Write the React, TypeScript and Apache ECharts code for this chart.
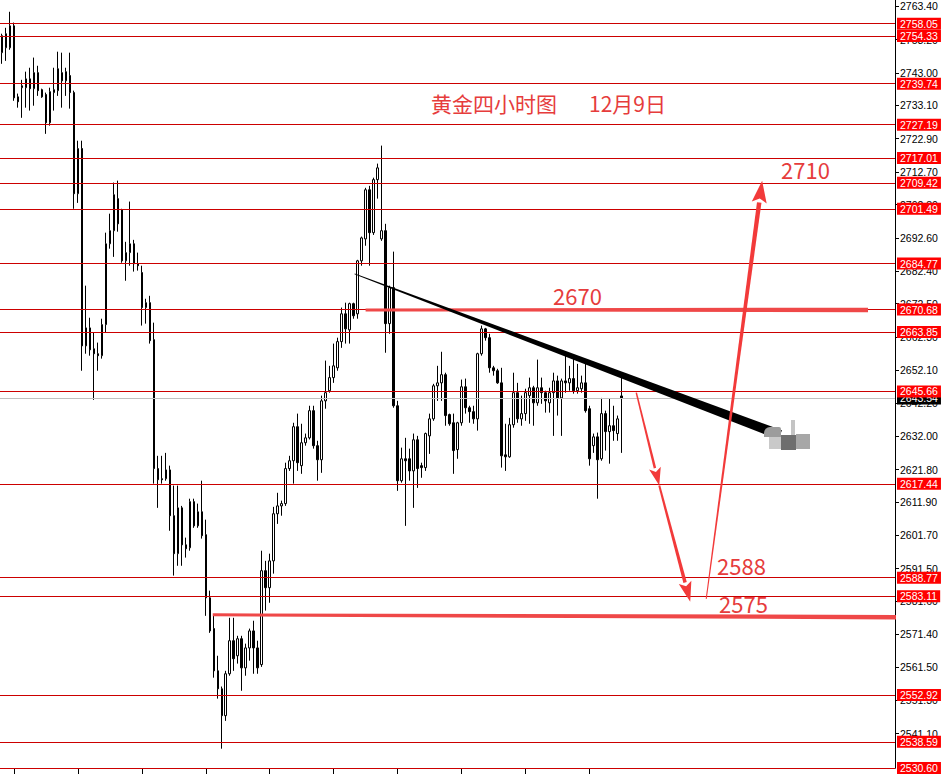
import React, { useEffect, useRef } from "react";
import * as echarts from "echarts";

// ---------- data ----------
const SLOT_COUNT = 224; // candle slots on the time axis (right part is chart shift)
const categories = Array.from({ length: SLOT_COUNT }, (_, i) => String(i));

const opens = [
  2749.2, 2750.7, 2750.7, 2757.4, 2735.7, 2738.5, 2738.5, 2741.2, 2738.2, 2743.1,
  2737.9, 2736.4, 2727.8, 2737.0, 2737.6, 2743.1, 2740.6, 2742.2, 2737.0, 2706.1,
  2719.9, 2659.6, 2665.1, 2658.7, 2657.2, 2656.6, 2666.1, 2690.8, 2694.8, 2704.6,
  2701.2, 2685.6, 2688.1, 2690.8, 2684.7, 2682.0, 2671.3, 2672.8, 2661.5, 2622.1,
  2619.0, 2619.0, 2621.7, 2607.7, 2596.1, 2610.1, 2598.8, 2597.9, 2612.0, 2604.6,
  2608.9, 2601.9, 2582.6, 2573.2, 2560.3, 2554.8, 2546.6, 2559.4, 2569.5, 2564.9,
  2570.1, 2561.2, 2567.3, 2572.5, 2567.3, 2562.2, 2590.9, 2585.7, 2593.9, 2608.3,
  2610.7, 2611.4, 2622.1, 2624.5, 2634.9, 2623.0, 2630.0, 2631.5, 2639.8, 2629.1,
  2624.8, 2642.8, 2645.9, 2649.9, 2652.9, 2660.9, 2669.4, 2664.5, 2672.5, 2669.4,
  2685.6, 2692.3, 2707.3, 2694.2, 2710.4, 2692.3, 2694.8, 2666.4, 2677.4, 2641.3,
  2618.4, 2625.1, 2625.1, 2621.4, 2630.9, 2623.0, 2622.4, 2632.1, 2637.3, 2647.4,
  2648.3, 2650.8, 2638.6, 2636.1, 2627.9, 2636.1, 2647.1, 2640.7, 2639.5, 2637.3,
  2657.2, 2664.8, 2662.1, 2652.9, 2652.0, 2648.3, 2626.3, 2625.7, 2635.5, 2645.3,
  2637.3, 2638.9, 2644.4, 2646.8, 2642.2, 2646.8, 2645.3, 2642.2, 2645.3, 2648.9,
  2643.7, 2648.9, 2648.3, 2649.6, 2645.9, 2646.5, 2648.3, 2640.4, 2629.1, 2631.8,
  2625.1, 2638.9, 2633.4, 2635.2, 2632.8, 2644.3,
];
const closes = [
  2754.4, 2755.0, 2757.4, 2735.4, 2734.2, 2739.1, 2741.2, 2738.2, 2743.1, 2737.6,
  2735.7, 2727.8, 2737.3, 2737.9, 2744.3, 2740.6, 2743.4, 2737.0, 2706.1, 2719.9,
  2659.6, 2665.1, 2658.4, 2657.2, 2656.6, 2666.1, 2690.8, 2694.8, 2705.8, 2696.9,
  2685.6, 2688.1, 2690.8, 2684.7, 2684.1, 2671.3, 2672.8, 2661.2, 2622.1, 2618.7,
  2618.7, 2621.7, 2607.7, 2596.1, 2610.1, 2598.8, 2597.6, 2612.0, 2604.6, 2608.9,
  2601.6, 2582.6, 2572.5, 2560.3, 2554.8, 2546.6, 2559.4, 2569.5, 2564.0, 2570.1,
  2561.2, 2567.3, 2572.5, 2567.3, 2561.2, 2590.9, 2585.7, 2593.9, 2608.3, 2610.7,
  2611.4, 2622.1, 2624.5, 2634.9, 2623.9, 2630.0, 2631.5, 2639.8, 2629.1, 2624.8,
  2642.8, 2645.3, 2649.9, 2653.5, 2660.9, 2669.4, 2664.8, 2672.5, 2668.8, 2685.6,
  2692.6, 2707.3, 2694.2, 2710.4, 2714.0, 2694.8, 2666.4, 2677.4, 2641.3, 2618.4,
  2625.1, 2624.5, 2621.4, 2630.9, 2622.1, 2622.4, 2632.8, 2637.3, 2647.4, 2648.3,
  2650.8, 2638.3, 2635.8, 2627.6, 2636.1, 2647.1, 2640.7, 2639.5, 2637.3, 2657.2,
  2664.8, 2662.1, 2652.9, 2652.0, 2648.3, 2626.0, 2625.7, 2635.5, 2645.3, 2637.3,
  2638.9, 2645.3, 2646.8, 2642.2, 2646.8, 2645.3, 2642.8, 2645.3, 2648.9, 2643.7,
  2648.9, 2648.3, 2649.6, 2645.9, 2646.8, 2648.3, 2639.8, 2625.1, 2631.8, 2624.8,
  2638.9, 2633.4, 2635.2, 2633.7, 2637.3, 2643.5,
];
const lows = [
  2745.8, 2746.7, 2750.1, 2734.5, 2732.4, 2729.3, 2732.4, 2731.5, 2733.0, 2736.0,
  2735.4, 2724.4, 2726.9, 2731.5, 2736.0, 2732.4, 2736.0, 2732.1, 2701.5, 2703.3,
  2652.0, 2657.2, 2656.6, 2643.1, 2652.0, 2655.7, 2663.6, 2689.3, 2686.8, 2694.5,
  2685.0, 2679.5, 2684.1, 2682.3, 2682.6, 2665.8, 2666.4, 2660.3, 2617.5, 2610.1,
  2617.5, 2618.4, 2603.1, 2589.4, 2592.4, 2592.4, 2594.9, 2597.0, 2604.0, 2604.0,
  2600.7, 2577.1, 2571.9, 2558.2, 2551.8, 2536.5, 2545.0, 2558.8, 2560.3, 2562.5,
  2554.2, 2558.8, 2563.4, 2559.4, 2559.4, 2561.5, 2578.7, 2581.1, 2590.0, 2605.2,
  2607.7, 2610.7, 2621.4, 2617.5, 2621.4, 2620.5, 2629.1, 2631.0, 2628.2, 2618.4,
  2620.8, 2640.4, 2645.3, 2648.3, 2652.0, 2659.0, 2660.3, 2660.3, 2667.9, 2667.9,
  2684.1, 2690.2, 2684.1, 2693.5, 2704.6, 2691.7, 2657.5, 2663.3, 2640.7, 2615.3,
  2617.8, 2604.6, 2618.4, 2610.1, 2616.2, 2619.3, 2621.4, 2626.6, 2636.7, 2642.8,
  2642.8, 2635.2, 2635.2, 2620.5, 2625.1, 2635.2, 2638.9, 2636.1, 2635.8, 2633.7,
  2656.6, 2661.2, 2651.4, 2650.5, 2648.0, 2622.4, 2621.4, 2625.4, 2634.6, 2636.1,
  2635.2, 2636.7, 2635.8, 2635.2, 2641.3, 2641.9, 2639.2, 2639.2, 2632.1, 2638.3,
  2632.1, 2645.3, 2645.9, 2645.0, 2645.0, 2645.3, 2639.2, 2623.0, 2626.9, 2612.9,
  2624.5, 2627.6, 2623.6, 2630.6, 2630.6, 2626.9,
];
const highs = [
  2755.0, 2756.8, 2761.7, 2758.4, 2736.7, 2740.9, 2743.4, 2744.6, 2747.7, 2745.2,
  2738.2, 2737.0, 2738.5, 2744.6, 2749.5, 2749.2, 2744.6, 2749.2, 2737.6, 2722.3,
  2722.3, 2678.0, 2668.2, 2663.6, 2660.6, 2667.9, 2694.2, 2700.0, 2709.5, 2710.1,
  2701.5, 2691.4, 2703.7, 2692.0, 2688.1, 2684.1, 2674.0, 2674.9, 2666.7, 2626.0,
  2626.0, 2626.9, 2623.0, 2616.9, 2616.9, 2610.7, 2601.0, 2612.9, 2612.9, 2611.4,
  2618.4, 2606.5, 2584.8, 2577.1, 2564.9, 2555.5, 2560.3, 2576.5, 2576.5, 2571.0,
  2571.0, 2568.6, 2573.2, 2575.6, 2569.5, 2597.0, 2593.9, 2596.1, 2610.4, 2614.7,
  2612.3, 2623.9, 2626.0, 2636.1, 2638.9, 2635.8, 2632.8, 2641.3, 2641.3, 2630.6,
  2644.4, 2655.1, 2653.5, 2660.3, 2662.1, 2671.3, 2672.8, 2672.8, 2672.8, 2685.9,
  2693.0, 2707.9, 2708.5, 2711.0, 2715.3, 2720.8, 2696.9, 2678.0, 2688.4, 2642.8,
  2628.5, 2631.5, 2628.2, 2632.8, 2632.1, 2623.9, 2633.1, 2638.9, 2648.0, 2653.5,
  2657.8, 2651.4, 2638.9, 2638.9, 2636.4, 2649.3, 2649.6, 2641.3, 2641.3, 2657.5,
  2665.8, 2665.1, 2663.3, 2653.5, 2652.6, 2652.9, 2635.8, 2637.6, 2651.4, 2648.3,
  2644.4, 2646.5, 2649.9, 2647.4, 2655.4, 2649.9, 2645.9, 2646.8, 2651.4, 2650.5,
  2649.6, 2656.6, 2653.5, 2656.6, 2654.1, 2650.5, 2654.4, 2641.3, 2632.8, 2633.1,
  2643.7, 2639.8, 2643.4, 2641.3, 2638.3, 2649.9,
];

const levelPrices = [
  2758.05, 2754.33, 2739.74, 2727.19, 2717.01, 2709.42, 2701.49, 2684.77,
  2670.68, 2663.85, 2645.66, 2617.44, 2588.77, 2583.11, 2552.92, 2538.59, 2530.6,
];
const currentPrice = 2643.54;
const axisTickValues = [
  2541.1, 2551.3, 2561.5, 2571.4, 2581.6, 2591.5, 2601.7, 2611.9, 2621.8, 2632.0,
  2642.2, 2652.1, 2662.3, 2672.5, 2682.4, 2692.6, 2702.8, 2712.7, 2722.9, 2733.1,
  2743.0, 2753.2, 2763.4,
];
const priceMin = 2530.6;
const priceMax = 2765.3;

// hand-drawn annotations, in [slot, price] space
const trendLine = [[88.25, 2681.6, 194.75, 2632.4]];
const arrowLines = [
  [158.75, 2645.3, 164.5, 2616.9],
  [164.5, 2616.9, 172.25, 2581.4],
  [176.25, 2582.3, 190.25, 2710.1],
];
const zoneLines = [
  [91, 2670.6, 216.75, 2670.6],
  [52.75, 2577.4, 223.75, 2576.7],
];
const noteTexts = ["2670", "2710", "2588", "2575"];
const titleText = "黄金四小时图";
const dateText = "12月9日";

// ---------- styles ----------
const RED = "#e63c3c";
const arrowStyles = [
  { w1: 1.5, w2: 2.5, headLen: 18, headHalf: 6 },
  { w1: 2, w2: 3.5, headLen: 20, headHalf: 6.5 },
  { w1: 1, w2: 4.5, headLen: 22, headHalf: 7.5 },
];
const notePositions = [
  [553, 295],
  [781, 169],
  [717, 565],
  [719, 603],
];

function taper(a: number[], b: number[], w1: number, w2: number) {
  const dx = b[0] - a[0];
  const dy = b[1] - a[1];
  const len = Math.hypot(dx, dy) || 1;
  const nx = -dy / len;
  const ny = dx / len;
  return [
    [a[0] + (nx * w1) / 2, a[1] + (ny * w1) / 2],
    [b[0] + (nx * w2) / 2, b[1] + (ny * w2) / 2],
    [b[0] - (nx * w2) / 2, b[1] - (ny * w2) / 2],
    [a[0] - (nx * w1) / 2, a[1] - (ny * w1) / 2],
  ];
}

export default function App() {
  const ref = useRef<HTMLDivElement>(null);

  useEffect(() => {
    if (!ref.current) return;
    const chart = echarts.init(ref.current, undefined, { renderer: "svg" });

    const candleData = opens.map((o, i) => [o, closes[i], lows[i], highs[i]]);
    const labelFont = { fontFamily: "Liberation Sans", fontSize: 10.5 };

    const option: any = {
      animation: false,
      backgroundColor: "#ffffff",
      grid: { left: -1, right: 49, top: 0, bottom: 6, containLabel: false },
      xAxis: [
        {
          type: "category",
          data: categories,
          boundaryGap: true,
          axisLine: { show: true, onZero: false, lineStyle: { color: "#000", width: 1 } },
          axisTick: {
            show: true,
            inside: false,
            alignWithLabel: true,
            length: 6,
            interval: (i: number) => i % 16 === 3 && i <= 147,
            lineStyle: { color: "#000" },
          },
          axisLabel: { show: false },
          splitLine: { show: false },
        },
        {
          type: "value",
          min: -0.5,
          max: SLOT_COUNT - 0.5,
          show: false,
          axisLine: { show: false, onZero: false },
          axisTick: { show: false },
          axisLabel: { show: false },
          splitLine: { show: false },
        },
      ],
      yAxis: {
        type: "value",
        position: "right",
        min: priceMin,
        max: priceMax,
        axisLine: { show: true, onZero: false, lineStyle: { color: "#000", width: 1 } },
        axisTick: {
          show: true,
          inside: false,
          length: 4,
          customValues: axisTickValues,
          lineStyle: { color: "#000" },
        },
        axisLabel: {
          customValues: axisTickValues,
          formatter: (v: number) => Number(v).toFixed(2),
          color: "#000",
          margin: 5,
          ...labelFont,
        },
        splitLine: { show: false },
      },
      graphic: [
        {
          type: "text",
          x: 431,
          y: 103,
          z: 20,
          style: {
            text: titleText,
            fill: RED,
            font: '21px "Noto Sans CJK SC"',
            verticalAlign: "middle",
            align: "left",
          },
        },
        {
          type: "text",
          x: 589,
          y: 103,
          z: 20,
          style: {
            text: dateText,
            fill: RED,
            font: '21px "Noto Sans CJK SC"',
            verticalAlign: "middle",
            align: "left",
          },
        },
        ...noteTexts.map((t, i) => ({
          type: "text",
          x: notePositions[i][0],
          y: notePositions[i][1],
          z: 20,
          style: {
            text: t,
            fill: RED,
            font: '22px "Noto Sans CJK SC"',
            verticalAlign: "middle",
            align: "left",
          },
        })),
        // grey smudge at the end of the trend line
        { type: "rect", z: 20, shape: { x: 764, y: 427, width: 17, height: 10, r: [6, 2, 0, 0] }, style: { fill: "#9c9c9c" } },
        { type: "rect", z: 20, shape: { x: 769, y: 437, width: 12, height: 12 }, style: { fill: "#c9c9c9" } },
        { type: "rect", z: 20, shape: { x: 781, y: 435, width: 15, height: 15 }, style: { fill: "#6e6e6e" } },
        { type: "rect", z: 20, shape: { x: 796, y: 434, width: 14, height: 15 }, style: { fill: "#a7a7a7" } },
        { type: "rect", z: 20, shape: { x: 791, y: 420, width: 4, height: 15 }, style: { fill: "#c4c4c4" } },
      ],
      series: [
        {
          type: "candlestick",
          xAxisIndex: 0,
          yAxisIndex: 0,
          data: candleData,
          barWidth: 2,
          silent: true,
          itemStyle: {
            color: "#ffffff",
            color0: "#000000",
            borderColor: "#000000",
            borderColor0: "#000000",
            borderWidth: 1,
          },
          markLine: {
            silent: true,
            symbol: ["none", "none"],
            animation: false,
            lineStyle: { color: "#cc0000", width: 1, type: "solid" },
            label: {
              show: true,
              position: "end",
              distance: 2,
              formatter: (p: any) => Number(p.value).toFixed(2),
              color: "#ffffff",
              backgroundColor: "#ff0000",
              padding: [1, 3, 0, 3],
              lineHeight: 11,
              ...labelFont,
            },
            data: [
              {
                yAxis: currentPrice,
                lineStyle: { color: "#c0c0c0", width: 1, type: "solid" },
                label: { backgroundColor: "#000000", color: "#ffffff" },
              },
              ...levelPrices.map((v) => ({ yAxis: v })),
            ],
          },
        },
        {
          type: "custom",
          xAxisIndex: 1,
          yAxisIndex: 0,
          silent: true,
          z: 5,
          data: zoneLines,
          encode: { x: [0, 2], y: [1, 3] },
          renderItem: (params: any, api: any) => {
            const a = api.coord([api.value(0), api.value(1)]);
            const b = api.coord([api.value(2), api.value(3)]);
            return {
              type: "polygon",
              shape: { points: taper(a, b, 3, 4.5) },
              style: { fill: "#ef4848" },
            };
          },
        },
        {
          type: "custom",
          xAxisIndex: 1,
          yAxisIndex: 0,
          silent: true,
          z: 6,
          data: trendLine,
          encode: { x: [0, 2], y: [1, 3] },
          renderItem: (params: any, api: any) => {
            const a = api.coord([api.value(0), api.value(1)]);
            const b = api.coord([api.value(2), api.value(3)]);
            return {
              type: "polygon",
              shape: { points: taper(a, b, 1, 10) },
              style: { fill: "#000000" },
            };
          },
        },
        {
          type: "custom",
          xAxisIndex: 1,
          yAxisIndex: 0,
          silent: true,
          z: 7,
          data: arrowLines,
          encode: { x: [0, 2], y: [1, 3] },
          renderItem: (params: any, api: any) => {
            const st = arrowStyles[params.dataIndex];
            const a = api.coord([api.value(0), api.value(1)]);
            const b = api.coord([api.value(2), api.value(3)]);
            const dx = b[0] - a[0];
            const dy = b[1] - a[1];
            const len = Math.hypot(dx, dy) || 1;
            const ux = dx / len;
            const uy = dy / len;
            const base = [b[0] - ux * st.headLen, b[1] - uy * st.headLen];
            const nx = -uy;
            const ny = ux;
            return {
              type: "group",
              children: [
                {
                  type: "polygon",
                  shape: { points: taper(a, base, st.w1, st.w2) },
                  style: { fill: "#f23a3a" },
                },
                {
                  type: "polygon",
                  shape: {
                    points: [
                      b,
                      [base[0] + nx * st.headHalf, base[1] + ny * st.headHalf],
                      [base[0] + ux * 4, base[1] + uy * 4],
                      [base[0] - nx * st.headHalf, base[1] - ny * st.headHalf],
                    ],
                  },
                  style: { fill: "#f23a3a" },
                },
              ],
            };
          },
        },
      ],
    };

    chart.setOption(option);
    return () => chart.dispose();
  }, []);

  return (
    <div
      ref={ref}
      style={{ position: "absolute", left: 0, top: 0, width: 944, height: 774, background: "#fff" }}
    />
  );
}
